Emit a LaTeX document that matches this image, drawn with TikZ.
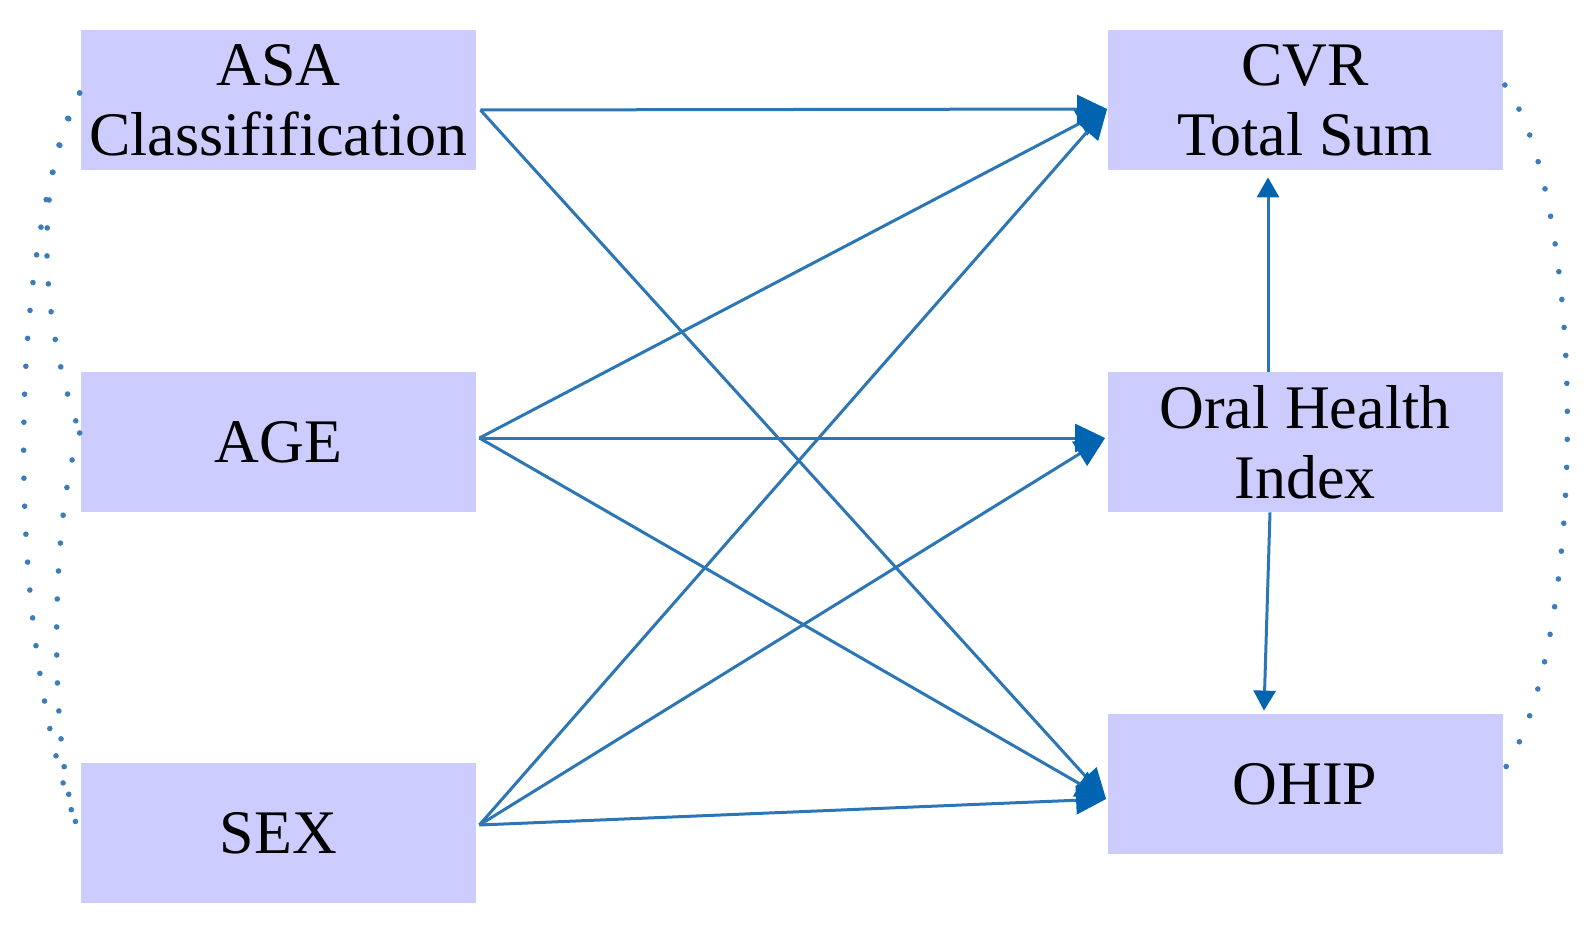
\documentclass[tikz,border=0pt]{standalone}
\usepackage{fontspec}
\setmainfont{Liberation Serif}
\usetikzlibrary{arrows.meta}
\definecolor{boxfill}{RGB}{204,204,255}
\definecolor{lineblue}{RGB}{45,118,182}
\definecolor{headblue}{RGB}{0,100,176}
\definecolor{dotblue}{RGB}{60,125,185}
\begin{document}
\begin{tikzpicture}[x=0.5pt,y=-0.5pt,
  box/.style={fill=boxfill, draw=none, minimum width=197.5pt, minimum height=70pt,
    inner sep=0pt, align=center, font=\fontsize{31}{35}\selectfont},
  link/.style={draw=lineblue, line width=1.5pt,
    -{Triangle[length=15pt,width=14pt,color=headblue]}},
  vlink/.style={draw=lineblue, line width=1.5pt,
    -{Triangle[length=10pt,width=11pt,color=headblue]}},
  corr/.style={draw=dotblue, line width=2.8pt, line cap=round, dash pattern=on 0pt off 14pt}]
\useasboundingbox (0,0) rectangle (1591,931);
\node[box] (asa)  at (278.5,100) {ASA\\Classifification};
\node[box] (age)  at (278.5,442) {AGE};
\node[box] (sex)  at (278.5,833) {SEX};
\node[box] (cvr)  at (1305,100)  {CVR\\Total Sum};
\node[box] (ohi)  at (1305,442)  {Oral Health\\Index};
\node[box] (ohip) at (1305,784)  {OHIP};
% connectors
\draw[link] ([shift={(4,10)}]asa.east) -- ([shift={(0,9)}]cvr.west);
\draw[link] ([shift={(4,10)}]asa.east) -- ([shift={(-1,15)}]ohip.west);
\draw[link] ([shift={(3,-4)}]age.east) -- ([shift={(0,9)}]cvr.west);
\draw[link] ([shift={(3,-4)}]age.east) -- ([shift={(-2,-4)}]ohi.west);
\draw[link] ([shift={(3,-4)}]age.east) -- ([shift={(-1,15)}]ohip.west);
\draw[link] ([shift={(3,-8)}]sex.east) -- ([shift={(0,9)}]cvr.west);
\draw[link] ([shift={(3,-8)}]sex.east) -- ([shift={(-2,-4)}]ohi.west);
\draw[link] ([shift={(3,-8)}]sex.east) -- ([shift={(-1,15)}]ohip.west);
\draw[vlink] ([shift={(-37,0)}]ohi.north) -- ([shift={(-37,7)}]cvr.south);
\draw[vlink] ([shift={(-35,0)}]ohi.south) -- ([shift={(-41,-3)}]ohip.north);
% correlations
\draw[corr] ([shift={(-1,-7)}]asa.west) .. controls (36,170) and (36,310) .. ([shift={(-1,-10)}]age.west);
\draw[corr] ([shift={(-1,-9)}]age.west) .. controls (49,520) and (49,760) .. ([shift={(-1,0)}]sex.west);
\draw[corr] ([shift={(-1,-7)}]asa.west) .. controls (5,250) and (5,640) .. ([shift={(-1,0)}]sex.west);
\draw[corr] ([shift={(2,-15)}]cvr.east) .. controls (1588,200) and (1588,640) .. ([shift={(3,-17)}]ohip.east);
\end{tikzpicture}
\end{document}
